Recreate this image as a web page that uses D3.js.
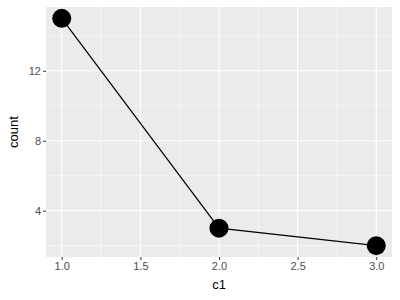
<!DOCTYPE html>
<meta charset="utf-8">
<style>
body { margin: 0; }
svg { font-family: "Liberation Sans", Arial, sans-serif; }
.axis path { display: none; }
.axis line { stroke: #333; }
.axis text { fill: #4d4d4d; font-size: 11px; font-family: "Liberation Sans", Arial, sans-serif; }
</style>
<svg width="400" height="300"></svg>
<script src="https://cdn.jsdelivr.net/npm/d3@7"></script>
<script>

var c1 = [1, 2, 3],
    count = [15, 3, 2];

var xTicks = [1, 1.5, 2, 2.5, 3],
    yTicks = [4, 8, 12];

var xMinor = [1.25, 1.75, 2.25, 2.75],
    yMinor = [2, 6, 10, 14];

var svg = d3.select("svg"),
    pLeft = 46, pRight = 392, pTop = 7, pBottom = 257;

var x = d3.scaleLinear().domain([0.9, 3.1]).range([pLeft, pRight]);
var y = d3.scaleLinear().domain([2 - 0.65, 15 + 0.65]).range([pBottom, pTop]);

svg.append("rect")
    .attr("x", pLeft).attr("y", pTop)
    .attr("width", pRight - pLeft).attr("height", pBottom - pTop)
    .attr("fill", "#ebebeb");

// minor grid
svg.append("g").selectAll("line").data(xMinor).enter().append("line")
    .attr("x1", x).attr("x2", x).attr("y1", pTop).attr("y2", pBottom)
    .attr("stroke", "#fff").attr("stroke-width", 0.5);
svg.append("g").selectAll("line").data(yMinor).enter().append("line")
    .attr("y1", y).attr("y2", y).attr("x1", pLeft).attr("x2", pRight)
    .attr("stroke", "#fff").attr("stroke-width", 0.5);

// major grid
svg.append("g").selectAll("line").data(xTicks).enter().append("line")
    .attr("x1", x).attr("x2", x).attr("y1", pTop).attr("y2", pBottom)
    .attr("stroke", "#fff").attr("stroke-width", 1.1);
svg.append("g").selectAll("line").data(yTicks).enter().append("line")
    .attr("y1", y).attr("y2", y).attr("x1", pLeft).attr("x2", pRight)
    .attr("stroke", "#fff").attr("stroke-width", 1.1);

svg.append("g").attr("class", "axis")
    .attr("transform", "translate(0," + pBottom + ")")
    .call(d3.axisBottom(x).tickValues(xTicks).tickFormat(d3.format(".1f")).tickSize(3).tickPadding(2));

svg.append("g").attr("class", "axis")
    .attr("transform", "translate(" + pLeft + ",0)")
    .call(d3.axisLeft(y).tickValues(yTicks).tickSize(3).tickPadding(2));

var line = d3.line()
    .x(function(d, i) { return x(c1[i]); })
    .y(function(d) { return y(d); });

svg.append("path").datum(count)
    .attr("d", line)
    .attr("fill", "none").attr("stroke", "#000").attr("stroke-width", 1.2);

svg.append("g").selectAll("circle").data(count).enter().append("circle")
    .attr("cx", function(d, i) { return x(c1[i]); })
    .attr("cy", function(d) { return y(d); })
    .attr("r", 9.5)
    .attr("fill", "#000");

svg.append("text")
    .attr("x", (pLeft + pRight) / 2).attr("y", 289)
    .attr("text-anchor", "middle")
    .attr("font-size", 13)
    .text("c1");

svg.append("text")
    .attr("transform", "translate(18," + (pTop + pBottom) / 2 + ") rotate(-90)")
    .attr("text-anchor", "middle")
    .attr("font-size", 13)
    .text("count");

</script>
